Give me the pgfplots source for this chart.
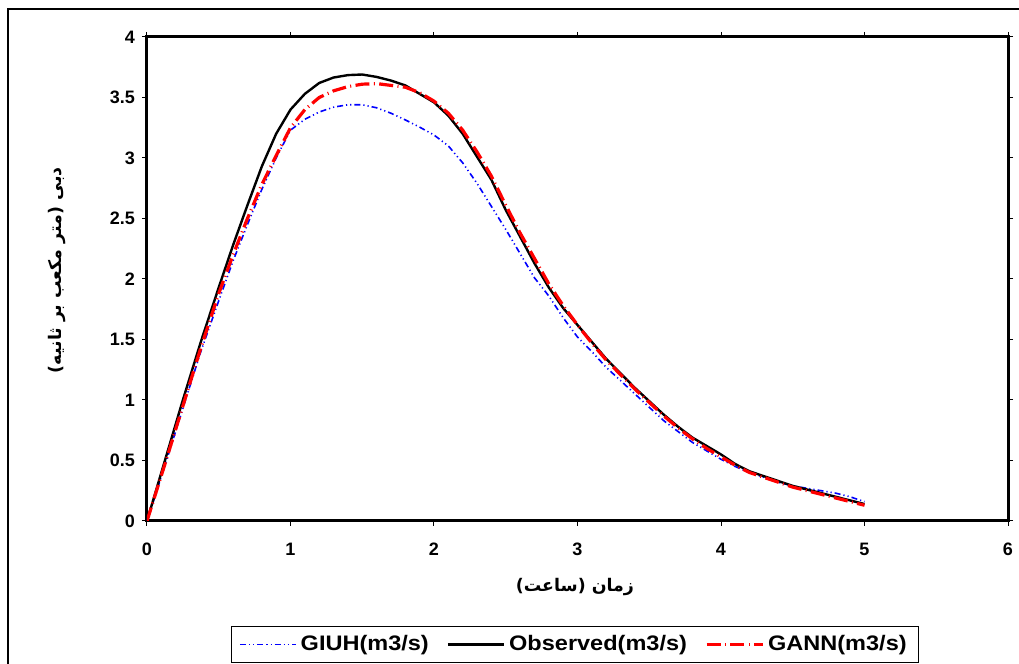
\documentclass[border=0pt]{standalone}
\usepackage{fontspec}
\setmainfont{Liberation Sans}
\newfontfamily\legfont{Liberation Sans}[FakeStretch=1.12]
\newfontfamily\farsi[Script=Arabic]{DejaVu Sans}
\TeXXeTstate=1
\usepackage{pgfplots}
\pgfplotsset{compat=1.18}

% hydrographs, time in hours, discharge in m3/s
\pgfplotstableread{
t    obs   gann  giuh
0.0   0.00  0.00  0.00
0.125 0.50  0.47  0.46
0.25  1.00  0.95  0.93
0.375 1.48  1.43  1.40
0.5   1.93  1.88  1.82
0.6   2.28  2.20  2.15
0.7   2.61  2.50  2.45
0.8   2.93  2.78  2.74
0.9   3.20  3.02  3.00
1.0   3.40  3.25  3.23
1.1   3.53  3.40  3.32
1.2   3.62  3.50  3.38
1.3   3.665 3.555 3.42
1.4   3.685 3.59  3.44
1.5   3.69  3.61  3.44
1.6   3.67  3.615 3.415
1.7   3.64  3.60  3.37
1.8   3.60  3.585 3.315
1.9   3.53  3.54  3.255
2.0   3.46  3.47  3.19
2.1   3.35  3.37  3.10
2.2   3.20  3.23  2.96
2.3   3.01  3.05  2.79
2.4   2.82  2.85  2.60
2.5   2.57  2.61  2.41
2.6   2.35  2.38  2.21
2.7   2.13  2.17  2.01
2.8   1.93  1.96  1.86
2.9   1.76  1.78  1.68
3.0   1.62  1.62  1.52
3.1   1.48  1.47  1.40
3.2   1.34  1.33  1.27
3.3   1.22  1.21  1.16
3.4   1.10  1.09  1.05
3.5   0.99  0.98  0.94
3.6   0.88  0.87  0.83
3.7   0.78  0.77  0.74
3.8   0.69  0.68  0.65
3.9   0.62  0.60  0.58
4.0   0.55  0.53  0.51
4.1   0.47  0.46  0.45
4.2   0.41  0.40  0.40
4.3   0.37  0.36  0.36
4.4   0.33  0.32  0.32
4.5   0.29  0.28  0.29
4.6   0.26  0.25  0.27
4.7   0.23  0.22  0.25
4.8   0.20  0.19  0.23
4.9   0.17  0.16  0.20
5.0   0.14  0.13  0.16
}\hydro

\begin{document}
\begin{tikzpicture}
\useasboundingbox (0,0) rectangle (509.5pt,332pt);
\draw[line width=1pt] (4pt,-20pt) rectangle (530pt,327.5pt);
\begin{axis}[
  at={(73.5pt,71.5pt)}, anchor=south west,
  scale only axis, width=430.5pt, height=242pt,
  xmin=0, xmax=6, ymin=0, ymax=4,
  xtick={0,1,...,6}, ytick={0,0.5,...,4},
  axis line style={line width=1.5pt},
  tick style={black, line width=0.5pt},
  tick align=outside, major tick length=2.5pt,
  tick label style={font=\bfseries\fontsize{9}{10}\selectfont},
  /pgf/number format/assume math mode=true,
  xticklabel style={yshift=-5pt},
  xlabel={\farsi\bfseries\beginR زمان (ساعت)\endR},
  ylabel={\farsi\bfseries\beginR دبی (متر مکعب بر ثانیه)\endR},
  label style={font=\fontsize{8.7}{10}\selectfont},
  xlabel style={at={(axis description cs:0.497,-0.136)}, anchor=center},
  ylabel style={at={(axis description cs:-0.1045,0.518)}, anchor=center},
  legend columns=3,
  legend style={at={(axis description cs:0.497,-0.255)}, anchor=center,
    draw=black, line width=0.5pt,
    font=\legfont\bfseries\fontsize{10.5}{12}\selectfont,
    /tikz/every even column/.append style={column sep=7pt},
    inner xsep=4pt, inner ysep=2.5pt},
  legend image code/.code={\draw[#1] (0pt,0pt) -- (28pt,0pt);},
]
\addplot[blue, line width=0.8pt,
  dash pattern=on 3pt off 1.5pt on 0.6pt off 1.5pt on 0.6pt off 1.5pt]
  table[x=t, y=giuh] {\hydro};
\addlegendentry{GIUH(m3/s)}
\addplot[black, line width=1.2pt] table[x=t, y=obs] {\hydro};
\addlegendentry{Observed(m3/s)}
\addplot[red, line width=1.6pt,
  dash pattern=on 7pt off 2.2pt on 0.5pt off 2.2pt]
  table[x=t, y=gann] {\hydro};
\addlegendentry{GANN(m3/s)}
\end{axis}
\end{tikzpicture}
\end{document}
